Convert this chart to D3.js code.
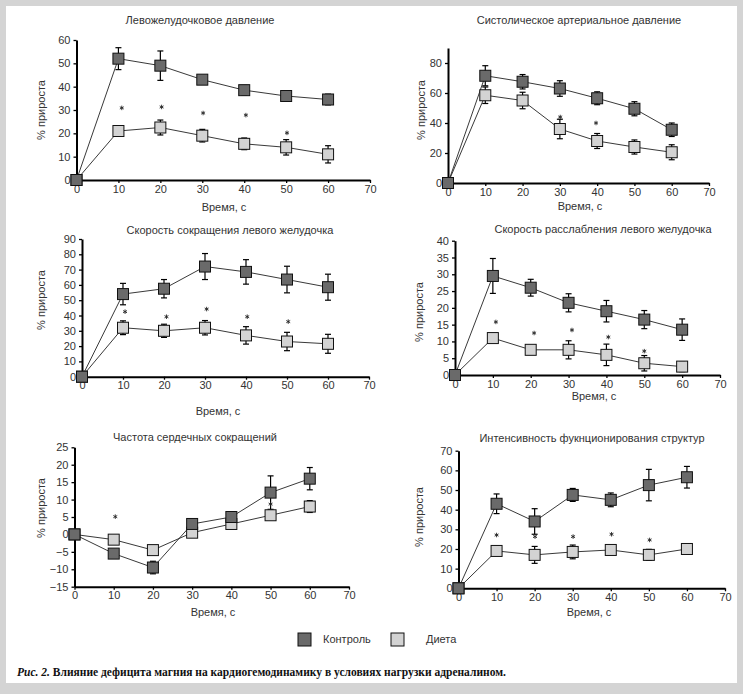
<!DOCTYPE html>
<html>
<head>
<meta charset="utf-8">
<script src="https://cdn.jsdelivr.net/npm/d3@7"></script>
<style>
  body { margin: 0; background: #fff; }
  text { font-family: "Liberation Sans", Arial, sans-serif; }
</style>
</head>
<body>
<div id="chart"></div>
<script>
/**
 * DATA
 * */
const times = [0, 10, 20, 30, 40, 50, 60];
const xTicks = [0, 10, 20, 30, 40, 50, 60, 70];

const titles = [
  "Левожелудочковое давление",
  "Систолическое артериальное давление",
  "Скорость сокращения левого желудочка",
  "Скорость расслабления левого желудочка",
  "Частота сердечных сокращений",
  "Интенсивность фукнционирования структур"
];
const seriesNames = ["Контроль", "Диета"];

// Левожелудочковое давление
const lvpControl = [0, 52, 49, 43, 38.5, 36, 34.5];
const lvpControlErr = [0, 4.7, 6.3, 1.7, 2, 1.8, 2.3];
const lvpDiet = [0, 21, 22.5, 19, 15.5, 14, 11];
const lvpDietErr = [0, 1.5, 3.2, 2.7, 2.5, 3.3, 3.7];
const lvpStars = [[10.8, 30.9], [20.3, 31.3], [30.2, 28.7], [40.4, 27.8], [50.2, 20.2]];
const lvpTicks = [0, 10, 20, 30, 40, 50, 60];

// Систолическое артериальное давление
const sapControl = [0, 71.5, 67.5, 63, 56.5, 49.5, 35.5];
const sapControlErr = [0, 6.7, 4.8, 5.2, 4.3, 4.7, 4.5];
const sapDiet = [0, 58.5, 55, 36, 28, 24, 20.5];
const sapDietErr = [0, 5.5, 5.5, 6.5, 5, 4.7, 5];
const sapStars = [[30.1, 44], [39.7, 40]];
const sapTicks = [0, 20, 40, 60, 80];

// Скорость сокращения левого желудочка
const contrControl = [0, 54, 57.5, 72, 68.5, 63.5, 58.5];
const contrControlErr = [0, 7, 6, 8.5, 8, 8.7, 8.5];
const contrDiet = [0, 32, 30, 32, 27, 23, 21.5];
const contrDietErr = [0, 4.5, 4.3, 4.7, 5.7, 6, 6.2];
const contrStars = [[10.5, 42.5], [20.6, 39.2], [30.4, 44.2], [40.3, 39.2], [50.3, 36]];
const contrTicks = [0, 10, 20, 30, 40, 50, 60, 70, 80, 90];

// Скорость расслабления левого желудочка
const relaxControl = [0, 29.5, 26, 21.5, 19, 16.5, 13.5];
const relaxControlErr = [0, 5.2, 2.5, 2.7, 3.2, 2.7, 3.2];
const relaxDiet = [0, 11, 7.5, 7.5, 6, 3.5, 2.5];
const relaxDietErr = [0, 0, 1, 2.7, 3.2, 2.3, 1.5];
const relaxStars = [[10.8, 15.8], [20.9, 12.5], [30.9, 13.4], [40.5, 11.3], [50, 7.1]];
const relaxTicks = [0, 5, 10, 15, 20, 25, 30, 35, 40];

// Частота сердечных сокращений
const hrControl = [0, -5.5, -9.5, 3, 5, 12, 16];
const hrControlErr = [0, 1, 1.8, 1, 1, 4.8, 3.2];
const hrDiet = [0, -1.5, -4.5, 0.5, 3, 5.5, 8];
const hrDietErr = [0, 1, 1, 1, 1, 1, 1.7];
const hrStars = [[10.4, 5.1], [50, 8.7]];
const hrTicks = [-15, -10, -5, 0, 5, 10, 15, 20, 25];

// Интенсивность фукнционирования структур
const intControl = [0, 43, 34, 47.5, 45, 52.5, 56.5];
const intControlErr = [0, 5, 6.5, 3.3, 3.5, 8, 5.5];
const intDiet = [0, 19, 17, 18.5, 19.5, 17, 20];
const intDietErr = [0, 2.3, 4.3, 3.5, 1.8, 2.8, 1.5];
const intStars = [[10, 27.1], [20.1, 26.3], [30.1, 26.3], [40.2, 27.5], [50.2, 24.6]];
const intTicks = [0, 10, 20, 30, 40, 50, 60, 70];

/**
 * LAYOUT
 * */
const width = 743, height = 694;
const colors = { control: "#6a6a6a", diet: "#d3d3d3" };
const textColor = "#333";

const panels = [
  { title: titles[0], control: lvpControl, controlErr: lvpControlErr, diet: lvpDiet, dietErr: lvpDietErr,
    stars: lvpStars, yTicks: lvpTicks, yDomain: [0, 60],
    x: [76.5, 370], y: [180, 40], titlePos: [200, 21], yLab: [42, 110], xLab: [224, 208] },
  { title: titles[1], control: sapControl, controlErr: sapControlErr, diet: sapDiet, dietErr: sapDietErr,
    stars: sapStars, yTicks: sapTicks, yDomain: [0, 90],
    x: [448, 709], y: [183, 48], titlePos: [579, 21], yLab: [422, 110], xLab: [580, 207] },
  { title: titles[2], control: contrControl, controlErr: contrControlErr, diet: contrDiet, dietErr: contrDietErr,
    stars: contrStars, yTicks: contrTicks, yDomain: [0, 90],
    x: [82, 369], y: [376.7, 239], titlePos: [230, 231], yLab: [42, 300], xLab: [218, 412] },
  { title: titles[3], control: relaxControl, controlErr: relaxControlErr, diet: relaxDiet, dietErr: relaxDietErr,
    stars: relaxStars, yTicks: relaxTicks, yDomain: [0, 40],
    x: [455, 720], y: [375, 240.7], titlePos: [603, 230], yLab: [420, 312], xLab: [594, 397] },
  { title: titles[4], control: hrControl, controlErr: hrControlErr, diet: hrDiet, dietErr: hrDietErr,
    stars: hrStars, yTicks: hrTicks, yDomain: [-15, 25],
    x: [74.5, 349], y: [586.7, 447.3], titlePos: [195, 438], yLab: [42, 508], xLab: [213, 613] },
  { title: titles[5], control: intControl, controlErr: intControlErr, diet: intDiet, dietErr: intDietErr,
    stars: intStars, yTicks: intTicks, yDomain: [0, 70],
    x: [458.5, 725], y: [588.3, 450.7], titlePos: [592, 439], yLab: [420, 517], xLab: [589, 613] }
];

const svg = d3.select("#chart").append("svg")
  .attr("width", width)
  .attr("height", height);

// grey frame
svg.append("rect").attr("width", width).attr("height", height).attr("fill", "#d4d4d4");
svg.append("rect").attr("x", 6).attr("y", 6).attr("width", 731).attr("height", 677).attr("fill", "#fff");

const sq = 11;
const star = d3.symbol(d3.symbolAsterisk, 14);

panels.forEach(p => {
  const x = d3.scaleLinear().domain([0, 70]).range(p.x);
  const y = d3.scaleLinear().domain(p.yDomain).range(p.y);
  const g = svg.append("g");

  // axes
  const xAxis = g.append("g")
    .attr("transform", `translate(0,${p.y[0]})`)
    .call(d3.axisBottom(x).tickValues(xTicks).tickSize(3).tickSizeOuter(0).tickPadding(2));
  const yAxis = g.append("g")
    .attr("transform", `translate(${p.x[0]},0)`)
    .call(d3.axisLeft(y).tickValues(p.yTicks).tickSize(3).tickSizeOuter(0).tickPadding(3));
  [xAxis, yAxis].forEach(a => {
    a.select(".domain").attr("stroke", "#000").attr("stroke-width", 2);
    a.selectAll(".tick line").attr("stroke", "#000").attr("stroke-width", 1.3);
    a.selectAll(".tick text").attr("font-size", 11).attr("fill", textColor)
      .style("font-family", "'Liberation Sans', Arial, sans-serif");
  });

  // titles + labels
  g.append("text").attr("x", p.titlePos[0]).attr("y", p.titlePos[1])
    .attr("text-anchor", "middle").attr("dominant-baseline", "middle")
    .attr("font-size", 11).attr("fill", textColor).text(p.title);
  g.append("text")
    .attr("transform", `translate(${p.yLab[0]},${p.yLab[1]}) rotate(-90)`)
    .attr("text-anchor", "middle").attr("dominant-baseline", "middle")
    .attr("font-size", 11).attr("fill", textColor).text("% прироста");
  g.append("text").attr("x", p.xLab[0]).attr("y", p.xLab[1])
    .attr("text-anchor", "middle").attr("dominant-baseline", "middle")
    .attr("font-size", 11).attr("fill", textColor).text("Время, с");

  const series = [
    { vals: p.diet, err: p.dietErr, fill: colors.diet },
    { vals: p.control, err: p.controlErr, fill: colors.control }
  ];

  const line = d3.line().x((d, i) => x(times[i])).y(d => y(d));

  series.forEach(s => {
    g.append("path").datum(s.vals)
      .attr("d", line).attr("fill", "none")
      .attr("stroke", "#222").attr("stroke-width", 0.9);
  });

  series.forEach(s => {
    const eb = g.append("g").attr("stroke", "#000").attr("stroke-width", 1.2);
    s.vals.forEach((v, i) => {
      if (!s.err[i]) return;
      const cx = x(times[i]), top = y(v + s.err[i]), bot = y(v - s.err[i]);
      eb.append("line").attr("x1", cx).attr("x2", cx).attr("y1", top).attr("y2", bot);
      eb.append("line").attr("x1", cx - 3).attr("x2", cx + 3).attr("y1", top).attr("y2", top);
      eb.append("line").attr("x1", cx - 3).attr("x2", cx + 3).attr("y1", bot).attr("y2", bot);
    });
  });

  series.forEach(s => {
    g.selectAll(null).data(s.vals).join("rect")
      .attr("x", (d, i) => x(times[i]) - sq / 2)
      .attr("y", d => y(d) - sq / 2)
      .attr("width", sq).attr("height", sq)
      .attr("fill", s.fill).attr("stroke", "#111").attr("stroke-width", 1);
  });

  // significance marks
  g.selectAll(null).data(p.stars).join("path")
    .attr("d", star)
    .attr("transform", d => `translate(${x(d[0])},${y(d[1])})`)
    .attr("fill", "none")
    .attr("stroke", "#222")
    .attr("stroke-width", 0.9);
});

// legend
const legend = svg.append("g");
[colors.control, colors.diet].forEach((c, i) => {
  const lx = [298, 391][i];
  legend.append("rect").attr("x", lx).attr("y", 633).attr("width", 13).attr("height", 13)
    .attr("fill", c).attr("stroke", "#111").attr("stroke-width", 1);
  legend.append("text").attr("x", [323, 426][i]).attr("y", 640)
    .attr("dominant-baseline", "middle").attr("font-size", 11).attr("fill", textColor)
    .text(seriesNames[i]);
});

// caption
const cap = svg.append("text")
  .attr("x", 17).attr("y", 676)
  .attr("font-size", 11.5).attr("font-weight", "bold").attr("fill", "#111")
  .style("font-family", "'Liberation Serif', 'Times New Roman', serif");
cap.append("tspan").attr("font-style", "italic").text("Рис. 2.");
cap.append("tspan").text(" Влияние дефицита магния на кардиогемодинамику в условиях нагрузки адреналином.");
</script>
</body>
</html>
